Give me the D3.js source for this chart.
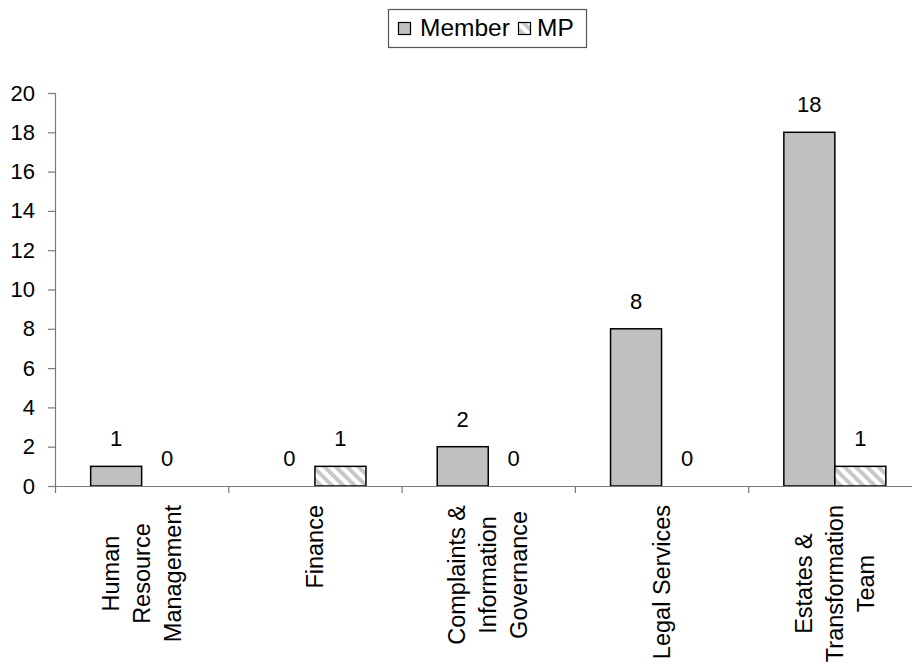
<!DOCTYPE html>
<html>
<head>
<meta charset="utf-8">
<script src="https://cdn.jsdelivr.net/npm/d3@7"></script>
<style>
  html, body { margin: 0; padding: 0; background: #fff; }
  svg { display: block; font-family: "Liberation Sans", Arial, sans-serif; }
</style>
</head>
<body>
<svg id="chart" width="912" height="666"></svg>
<script>
// Department labels, one array entry per text line
const categories = [
  ["Human", "Resource", "Management"],
  ["Finance"],
  ["Complaints &", "Information", "Governance"],
  ["Legal Services"],
  ["Estates &", "Transformation", "Team"]
];
const seriesNames = ["Member", "MP"];
const memberValues = [1, 0, 2, 8, 18];
const mpValues = [0, 1, 0, 0, 1];
const yTicks = [0, 2, 4, 6, 8, 10, 12, 14, 16, 18, 20];

const svg = d3.select("#chart");
const W = 912, H = 666;
const plot = { left: 55, right: 921.5, top: 93, bottom: 486 };
const axisColor = "#7a7a7a";
const tickFont = 22;
const catFont = 23.5;
const legendFont = 24.5;

// Hatched fill for the MP series
const defs = svg.append("defs");
const pat = defs.append("pattern")
  .attr("id", "hatch")
  .attr("patternUnits", "userSpaceOnUse")
  .attr("width", 8).attr("height", 8)
  .attr("patternTransform", "rotate(-45)");
pat.append("rect").attr("width", 8).attr("height", 8).attr("fill", "#ffffff");
pat.append("rect").attr("x", 0).attr("width", 4).attr("height", 8).attr("fill", "#c8c8c8");

const catKeys = categories.map((_, i) => i);
const x = d3.scaleBand().domain(catKeys).range([plot.left, plot.right]).paddingInner(0).paddingOuter(0);
const xs = d3.scaleBand().domain(seriesNames).range([0, x.bandwidth()]).paddingInner(0).paddingOuter(0.699);
const y = d3.scaleLinear().domain([0, 20]).range([plot.bottom, plot.top]);

const fills = { Member: "#c0c0c0", MP: "url(#hatch)" };
const rows = catKeys.map(i => ({ i, values: [
  { key: "Member", value: memberValues[i] },
  { key: "MP", value: mpValues[i] }
]}));

// Y axis
const yAxis = svg.append("g")
  .attr("transform", `translate(${plot.left},0)`)
  .call(d3.axisLeft(y).tickValues(yTicks).tickSize(7).tickPadding(13).tickSizeOuter(0));
yAxis.select(".domain").attr("stroke", axisColor).attr("stroke-width", 1.2)
  .attr("d", `M0.5,${plot.top}V${plot.bottom + 7}`);
yAxis.selectAll(".tick line").attr("stroke", axisColor).attr("stroke-width", 1.2);
yAxis.selectAll(".tick text").attr("fill", "#000").attr("font-size", tickFont)
  .attr("font-family", "Liberation Sans, Arial, sans-serif");

// Bars
const groups = svg.append("g").selectAll("g").data(rows).join("g")
  .attr("transform", d => `translate(${x(d.i)},0)`);
groups.selectAll("rect").data(d => d.values.filter(v => v.value > 0)).join("rect")
  .attr("x", v => xs(v.key))
  .attr("width", xs.bandwidth())
  .attr("y", v => y(v.value))
  .attr("height", v => y(0) - y(v.value))
  .attr("fill", v => fills[v.key])
  .attr("stroke", "#000")
  .attr("stroke-width", 1.5);

// Value labels
groups.selectAll("text.val").data(d => d.values).join("text")
  .attr("class", "val")
  .attr("x", v => xs(v.key) + xs.bandwidth() / 2)
  .attr("y", v => y(v.value) - 20)
  .attr("text-anchor", "middle")
  .attr("font-size", tickFont)
  .attr("fill", "#000")
  .text(v => v.value);

// X axis with ticks at category boundaries
const xAxisG = svg.append("g");
xAxisG.append("line")
  .attr("x1", plot.left).attr("x2", W)
  .attr("y1", y(0) + 0.5).attr("y2", y(0) + 0.5)
  .attr("stroke", axisColor).attr("stroke-width", 1.2);
xAxisG.selectAll("line.tk").data(catKeys.slice(1)).join("line")
  .attr("class", "tk")
  .attr("x1", d => x(d) + 0.5).attr("x2", d => x(d) + 0.5)
  .attr("y1", y(0)).attr("y2", y(0) + 7)
  .attr("stroke", axisColor).attr("stroke-width", 1.2);

// Rotated, multi-line category labels
const lineGap = 31;
const labelTop = 505;
catKeys.forEach(i => {
  const lines = categories[i];
  const cx = x(i) + x.bandwidth() / 2;
  const tmp = svg.append("text").attr("font-size", catFont);
  const widths = lines.map(l => { tmp.text(l); return tmp.node().getComputedTextLength(); });
  tmp.remove();
  const maxW = d3.max(widths);
  const g = svg.append("g")
    .attr("transform", `translate(${cx},${labelTop + maxW / 2}) rotate(-90)`);
  g.selectAll("text").data(lines).join("text")
    .attr("x", 0)
    .attr("y", (l, k) => (k - (lines.length - 1) / 2) * lineGap)
    .attr("dy", "0.35em")
    .attr("text-anchor", "middle")
    .attr("font-size", catFont)
    .attr("fill", "#000")
    .text(l => l);
});

// Legend
const legend = svg.append("g");
legend.append("rect")
  .attr("x", 388.5).attr("y", 9.5).attr("width", 198).attr("height", 38)
  .attr("fill", "#fff").attr("stroke", "#555").attr("stroke-width", 1.2);
const legendItems = [
  { key: "Member", sx: 398, tx: 420 },
  { key: "MP", sx: 518, tx: 537 }
];
legendItems.forEach(it => {
  legend.append("rect")
    .attr("x", it.sx + 0.5).attr("y", 22.5).attr("width", 12).attr("height", 12)
    .attr("fill", fills[it.key]).attr("stroke", "#000").attr("stroke-width", 1.2);
  legend.append("text")
    .attr("x", it.tx).attr("y", 35.5)
    .attr("font-size", legendFont)
    .attr("fill", "#000")
    .text(it.key);
});
</script>
</body>
</html>
